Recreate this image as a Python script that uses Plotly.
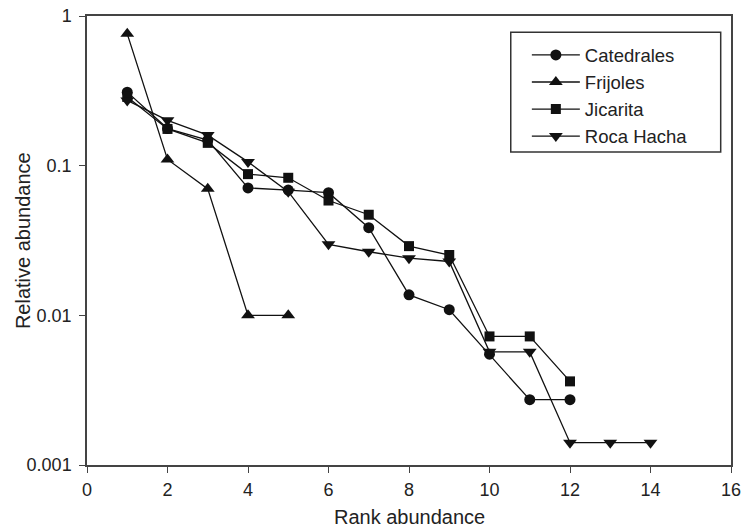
import plotly.graph_objects as go

series_names = ["Catedrales", "Frijoles", "Jicarita", "Roca Hacha"]
catedrales = [0.31, 0.177, 0.148, 0.071, 0.0687, 0.066, 0.0385, 0.0137, 0.0109, 0.0055, 0.00273, 0.00273]
frijoles = [0.76, 0.110, 0.070, 0.010, 0.010]
jicarita = [0.288, 0.176, 0.142, 0.0878, 0.083, 0.0585, 0.047, 0.029, 0.0253, 0.00723, 0.00723, 0.00362]
roca_hacha = [0.273, 0.201, 0.16, 0.106, 0.067, 0.0298, 0.0266, 0.0241, 0.0229, 0.0057, 0.0057, 0.00141, 0.00141, 0.00141]
symbols = ["circle", "triangle-up", "square", "triangle-down"]
sizes = [11, 12, 10, 12]

y_tickvals = [1, 0.1, 0.01, 0.001]
y_ticktext = ["1", "0.1", "0.01", "0.001"]
x_tickvals = list(range(0, 17, 2))

FONT = "Arial, Liberation Sans, sans-serif"
AX = "#444444"
TXT = "#222222"

fig = go.Figure()
for name, vals, sym, sz in zip(series_names, [catedrales, frijoles, jicarita, roca_hacha], symbols, sizes):
    fig.add_trace(go.Scatter(
        x=list(range(1, len(vals) + 1)), y=vals, name=name, mode="lines+markers",
        line=dict(color="#111111", width=1.3),
        marker=dict(symbol=sym, size=sz, color="#111111", line=dict(width=0)),
    ))

fig.update_layout(
    width=743, height=530,
    margin=dict(l=86.5, r=12, t=15.5, b=64.7, autoexpand=False),
    paper_bgcolor="white", plot_bgcolor="white",
    font=dict(family=FONT, color=TXT, size=18),
    legend=dict(x=0.683, y=0.9545, xanchor="left", yanchor="top",
                borderwidth=0, bgcolor="rgba(0,0,0,0)",
                font=dict(size=18.5, family=FONT, color=TXT),
                tracegroupgap=0, itemwidth=48),
    showlegend=True,
    shapes=[dict(type="rect", xref="paper", yref="paper",
                 x0=0.658, x1=0.984, y0=0.697, y1=0.964,
                 line=dict(color="#333333", width=1.5), fillcolor="rgba(0,0,0,0)",
                 layer="above")],
    annotations=[
        dict(text="Rank abundance", xref="paper", yref="paper", x=0.5, y=-0.116,
             xanchor="center", yanchor="middle", showarrow=False,
             font=dict(size=20, family=FONT, color=TXT)),
        dict(text="Relative abundance", xref="paper", yref="paper", x=-0.1, y=0.5,
             xanchor="center", yanchor="middle", showarrow=False, textangle=-90,
             font=dict(size=20, family=FONT, color=TXT)),
    ],
)
fig.update_xaxes(
    range=[0, 16], tickvals=x_tickvals, ticks="outside", ticklen=6, tickwidth=1.3,
    tickcolor=AX, showline=True, linecolor=AX, linewidth=1.5, mirror=True,
    showgrid=False, zeroline=False, tickfont=dict(size=18), automargin=False,
    ticklabeloverflow="allow", ticklabelstandoff=2,
)
fig.update_yaxes(
    type="log", range=[-3, 0], tickvals=y_tickvals, ticktext=y_ticktext,
    ticks="outside", ticklen=6, tickwidth=1.3, tickcolor=AX,
    showline=True, linecolor=AX, linewidth=1.5, mirror=True,
    showgrid=False, zeroline=False, tickfont=dict(size=18), automargin=False,
    ticklabeloverflow="allow", ticklabelstandoff=4,
)

# remove the browser's default 8px body margin so the figure fills the window exactly
fig.write_html("out.html", config={"displayModeBar": False},
               post_script="document.body.style.margin='0';")
